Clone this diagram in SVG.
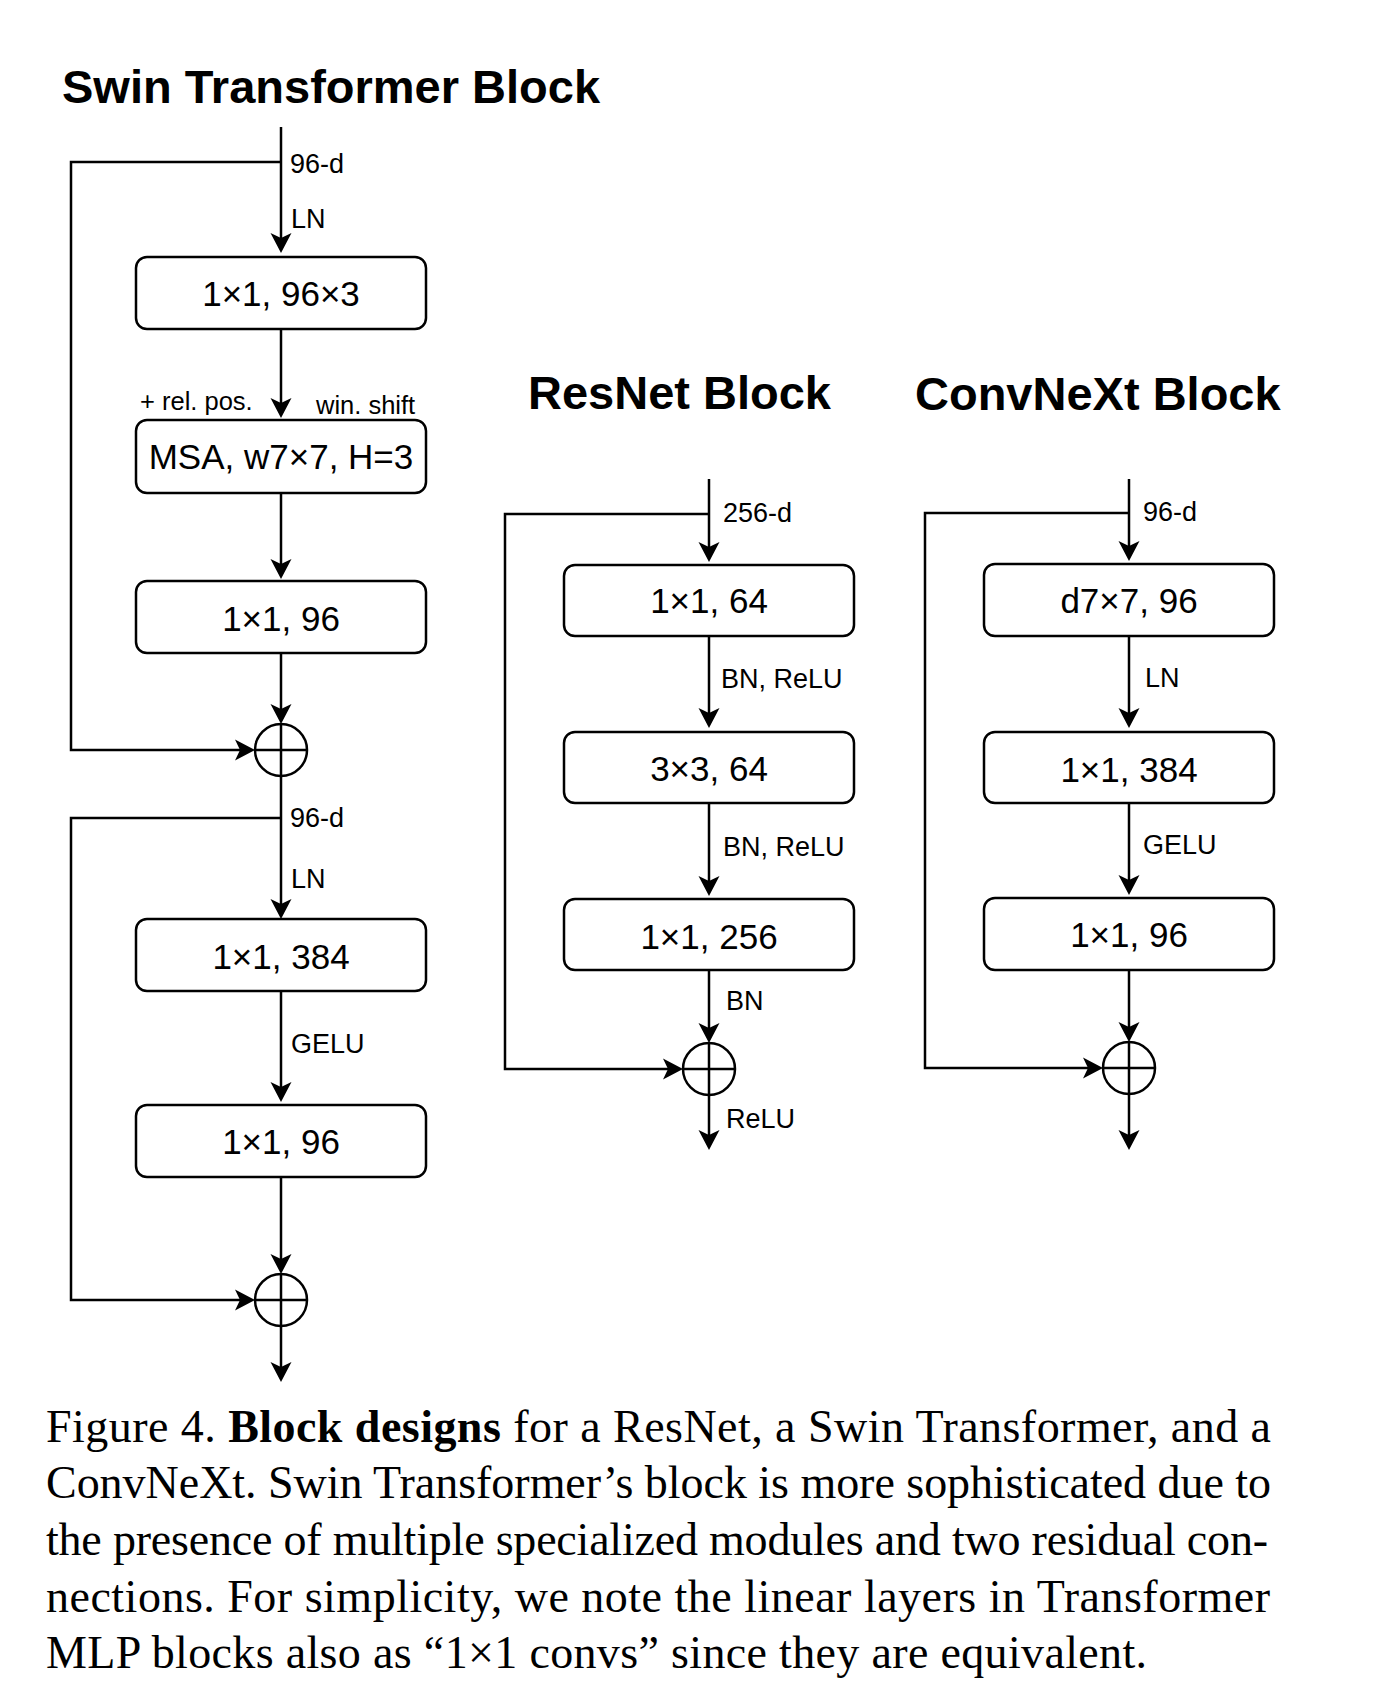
<svg xmlns="http://www.w3.org/2000/svg" width="1380" height="1700" viewBox="0 0 1380 1700">
<style>
.title{font-family:"Liberation Sans",Arial,sans-serif;font-weight:bold;font-size:47px;fill:#000}
.box{fill:#fff;stroke:#000;stroke-width:2.5}
.bt{font-family:"Liberation Sans",Arial,sans-serif;font-size:35px;fill:#000;text-anchor:middle}
.lbl{font-family:"Liberation Sans",Arial,sans-serif;font-size:27px;fill:#000}
.sm{font-family:"Liberation Sans",Arial,sans-serif;font-size:25.5px;fill:#000}
.ln{fill:none;stroke:#000;stroke-width:2.5}
.arr{marker-end:url(#ah)}
.cap{font-family:"Liberation Serif","Times New Roman",serif;font-size:46px;fill:#000}
</style>
<defs>
<marker id="ah" markerUnits="userSpaceOnUse" markerWidth="24" markerHeight="24" viewBox="-22 -12 24 24" refX="-14" refY="0" orient="auto">
<path d="M0,0 L-20,-10.5 L-15,0 L-20,10.5 Z" fill="#000"/>
</marker>
</defs>
<rect width="1380" height="1700" fill="#fff"/>

<text class="title" x="62" y="103">Swin Transformer Block</text>
<text class="title" x="528" y="409">ResNet Block</text>
<text class="title" x="915" y="410">ConvNeXt Block</text>

<g id="connectors">
<!-- Swin -->
<path class="ln arr" d="M281,127 V239"/>
<path class="ln arr" d="M281,329 V404"/>
<path class="ln arr" d="M281,493 V565"/>
<path class="ln arr" d="M281,653 V710"/>
<path class="ln arr" d="M281,776 V905"/>
<path class="ln arr" d="M281,991 V1088"/>
<path class="ln arr" d="M281,1177 V1260"/>
<path class="ln arr" d="M281,1326 V1368"/>
<path class="ln arr" d="M281,162 H71 V750 H241"/>
<path class="ln arr" d="M281,818 H71 V1300 H241"/>
<!-- ResNet -->
<path class="ln arr" d="M709,479 V548"/>
<path class="ln arr" d="M709,636 V714"/>
<path class="ln arr" d="M709,803 V882"/>
<path class="ln arr" d="M709,970 V1029"/>
<path class="ln arr" d="M709,1095 V1136"/>
<path class="ln arr" d="M709,514 H505 V1069 H669"/>
<!-- ConvNeXt -->
<path class="ln arr" d="M1129,479 V547"/>
<path class="ln arr" d="M1129,636 V714"/>
<path class="ln arr" d="M1129,803 V881"/>
<path class="ln arr" d="M1129,970 V1028"/>
<path class="ln arr" d="M1129,1094 V1136"/>
<path class="ln arr" d="M1129,513 H925 V1068 H1089"/>
</g>

<g id="swin-labels">
<text class="lbl" x="290" y="173">96-d</text>
<text class="lbl" x="291" y="228">LN</text>
<text class="sm" x="140" y="410">+ rel. pos.</text>
<text class="sm" x="316" y="414">win. shift</text>
<text class="lbl" x="290" y="827">96-d</text>
<text class="lbl" x="291" y="888">LN</text>
<text class="lbl" x="291" y="1053">GELU</text>
</g>

<g id="swin-qkv"><rect class="box" x="136" y="257" width="290" height="72" rx="11"/><text class="bt" x="281" y="306">1×1, 96×3</text></g>
<g id="swin-msa"><rect class="box" x="136" y="420" width="290" height="73" rx="11"/><text class="bt" x="281" y="469">MSA, w7×7, H=3</text></g>
<g id="swin-proj"><rect class="box" x="136" y="581" width="290" height="72" rx="11"/><text class="bt" x="281" y="631">1×1, 96</text></g>
<g id="swin-add1"><circle class="ln" cx="281" cy="750" r="26"/><path class="ln" d="M255,750 H307 M281,724 V776"/></g>
<g id="swin-mlp1"><rect class="box" x="136" y="919" width="290" height="72" rx="11"/><text class="bt" x="281" y="969">1×1, 384</text></g>
<g id="swin-mlp2"><rect class="box" x="136" y="1105" width="290" height="72" rx="11"/><text class="bt" x="281" y="1154">1×1, 96</text></g>
<g id="swin-add2"><circle class="ln" cx="281" cy="1300" r="26"/><path class="ln" d="M255,1300 H307 M281,1274 V1326"/></g>

<g id="resnet-labels">
<text class="lbl" x="723" y="522">256-d</text>
<text class="lbl" x="721" y="688">BN, ReLU</text>
<text class="lbl" x="723" y="856">BN, ReLU</text>
<text class="lbl" x="726" y="1010">BN</text>
<text class="lbl" x="726" y="1128">ReLU</text>
</g>
<g id="resnet-c1"><rect class="box" x="564" y="565" width="290" height="71" rx="11"/><text class="bt" x="709" y="613">1×1, 64</text></g>
<g id="resnet-c2"><rect class="box" x="564" y="732" width="290" height="71" rx="11"/><text class="bt" x="709" y="781">3×3, 64</text></g>
<g id="resnet-c3"><rect class="box" x="564" y="899" width="290" height="71" rx="11"/><text class="bt" x="709" y="949">1×1, 256</text></g>
<g id="resnet-add"><circle class="ln" cx="709" cy="1069" r="26"/><path class="ln" d="M683,1069 H735 M709,1043 V1095"/></g>

<g id="convnext-labels">
<text class="lbl" x="1143" y="521">96-d</text>
<text class="lbl" x="1145" y="687">LN</text>
<text class="lbl" x="1143" y="854">GELU</text>
</g>
<g id="convnext-dw"><rect class="box" x="984" y="564" width="290" height="72" rx="11"/><text class="bt" x="1129" y="613">d7×7, 96</text></g>
<g id="convnext-c2"><rect class="box" x="984" y="732" width="290" height="71" rx="11"/><text class="bt" x="1129" y="782">1×1, 384</text></g>
<g id="convnext-c3"><rect class="box" x="984" y="898" width="290" height="72" rx="11"/><text class="bt" x="1129" y="947">1×1, 96</text></g>
<g id="convnext-add"><circle class="ln" cx="1129" cy="1068" r="26"/><path class="ln" d="M1103,1068 H1155 M1129,1042 V1094"/></g>

<g id="caption">
<text class="cap" x="46" y="1442" textLength="1225" lengthAdjust="spacing">Figure 4. <tspan font-weight="bold">Block designs</tspan> for a ResNet, a Swin Transformer, and a</text>
<text class="cap" x="46" y="1498" textLength="1225" lengthAdjust="spacing">ConvNeXt. Swin Transformer’s block is more sophisticated due to</text>
<text class="cap" x="46" y="1555" textLength="1222" lengthAdjust="spacing">the presence of multiple specialized modules and two residual con-</text>
<text class="cap" x="46" y="1612" textLength="1224" lengthAdjust="spacing">nections. For simplicity, we note the linear layers in Transformer</text>
<text class="cap" x="46" y="1668" textLength="1101" lengthAdjust="spacing">MLP blocks also as “1×1 convs” since they are equivalent.</text>
</g>
</svg>
